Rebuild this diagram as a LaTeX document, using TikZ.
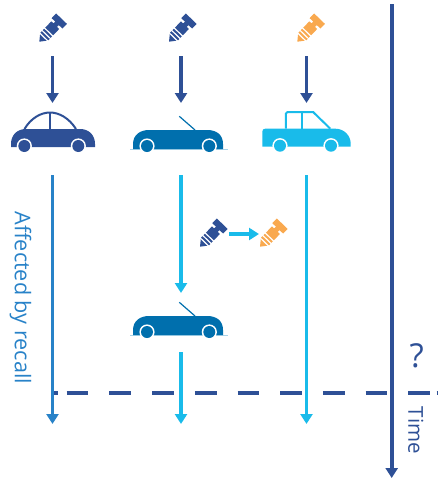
\documentclass[tikz,border=0pt]{standalone}
\usepackage{fontspec}
\setmainfont{Open Sans}
\usetikzlibrary{arrows.meta}
\definecolor{navyblue}{HTML}{2E5096}
\definecolor{midblue}{HTML}{2882C8}
\definecolor{seablue}{HTML}{006FAD}
\definecolor{skyblue}{HTML}{19BBEA}
\definecolor{paleblue}{HTML}{A9D3E8}
\definecolor{boltorange}{HTML}{F9A94F}
\tikzset{>={Triangle[width=12pt,length=10pt]}}
\tikzset{
  bolt/.pic={
    \fill[pic actions] (0,0) -- (7,-5.5) -- (23,-5.5) -- (23,-2.5) -- (25.5,-2.5) -- (25.5,-7.5)
      -- (32,-7.5) -- (32,7.5) -- (25.5,7.5) -- (25.5,2.5) -- (23,2.5) -- (23,5.5) -- (7,5.5) -- cycle;
    \foreach \u in {6.5,10,13.5}
      \draw[white,line width=1.2pt] (\u,-6.5) -- (\u,6.5);
  },
  wheel/.pic={
    \fill[white] (0,0) circle (7.6pt);
    \fill[pic actions] (0,0) circle (6pt);
  },
  sedan/.pic={
    \fill[navyblue] (0,0) -- (0,-3) .. controls (0,-12) and (6,-18) .. (15,-18) -- (69,-18)
      .. controls (78,-18) and (84,-12) .. (84,-3) -- (84,0) -- cycle;
    \draw[navyblue,line width=2pt] (13.5,-18) .. controls (20,-29) and (30,-34.5) .. (39,-34.5)
      .. controls (48,-34.5) and (58,-29) .. (65,-18);
    \draw[navyblue,line width=2pt] (38.7,-34.5) -- (38.7,-18);
    \pic[fill=navyblue] at (13.3,-1) {wheel};
    \pic[fill=navyblue] at (67.3,-1) {wheel};
  },
  roadster/.pic={
    \draw[paleblue,line width=0.8pt] (-3,0) -- (95,0);
    \fill[seablue] (0,0) -- (0,-5) .. controls (0,-14) and (7,-19) .. (16,-19) -- (74,-19)
      .. controls (84,-19) and (90,-14) .. (90,-5) -- (90,0) -- cycle;
    \draw[seablue,line width=1.2pt] (46.3,-32.7) -- (62,-19);
    \pic[fill=seablue] at (14,-3) {wheel};
    \pic[fill=seablue] at (76.3,-3) {wheel};
  },
  pickup/.pic={
    \fill[skyblue] (0,0) -- (0,-15) .. controls (0,-17) and (1,-18) .. (3,-18) -- (73,-18)
      .. controls (82,-18) and (88.4,-11) .. (88.4,-3) -- (88.4,0) -- cycle;
    \draw[skyblue,line width=2pt] (23.5,-18) -- (23.5,-33) .. controls (23.5,-34) and (24,-34.5) .. (25,-34.5)
      -- (51,-34.5) -- (68,-18);
    \draw[skyblue,line width=2pt] (40,-34.5) -- (40,-18);
    \pic[fill=skyblue] at (17.7,-1) {wheel};
    \pic[fill=skyblue] at (68.7,-1) {wheel};
  }
}
\begin{document}
\begin{tikzpicture}[
    x=1pt, y=-1pt,
    flow/.style = {->, line width=3.6pt},
    label/.style = {inner sep=0pt, anchor=base, rotate=-90}
  ]
  \useasboundingbox (0,0) rectangle (438,480);

  % ends of the arrows
  \foreach \n/\x in {A/52.5, B/181, C/306.5} {
    \coordinate (bolt\n) at (\x,56);
    \coordinate (car\n) at (\x,103);
    \coordinate (start\n) at (\x,175);
    \coordinate (end\n) at (\x,424);
  }
  \coordinate (parked) at (181,293);
  \coordinate (resume) at (181,352);
  \coordinate (swapL) at (229,234);
  \coordinate (swapR) at (259,234);
  \coordinate (timeT) at (391.7,4);
  \coordinate (timeB) at (391.7,478);
  \coordinate (cutL) at (66.7,392.7);
  \coordinate (cutR) at (438,392.7);
  \coordinate (stubL) at (53,392.7);
  \coordinate (stubR) at (58.3,392.7);
  \coordinate (tailL) at (436.7,392.7);

  % bolts
  \foreach \x/\y/\c in {39.3/41.7/navyblue, 169/41.7/navyblue, 297.3/41.7/boltorange,
      200/246.7/navyblue, 260/246.7/boltorange}
    \pic[fill=\c, rotate=46] at (\x,\y) {bolt};

  % cars
  \pic at (11,147) {sedan};
  \pic at (133,149) {roadster};
  \pic at (262.3,146.7) {pickup};
  \pic at (133,335) {roadster};

  % arrows
  \foreach \n in {A,B,C}
    \draw[flow, navyblue] (bolt\n) -- (car\n);
  \draw[navyblue, line width=4pt, dash pattern=on 21.7pt off 21pt] (cutL) -- (cutR);
  \draw[navyblue, line width=4pt] (stubL) -- (stubR);
  \draw[navyblue, line width=4pt] (tailL) -- (cutR);
  \draw[flow, midblue] (startA) -- (endA);
  \draw[flow, skyblue] (startB) -- (parked);
  \draw[flow, skyblue] (resume) -- (endB);
  \draw[flow, skyblue] (startC) -- (endC);
  \draw[flow, skyblue] (swapL) -- (swapR);
  \draw[flow, navyblue, line width=4pt] (timeT) -- (timeB);

  % texts
  \node[label, midblue, font=\fontsize{21.6}{26}\selectfont] (recall) at (15,297.8) {Affected by recall};
  \node[label, navyblue, font=\fontsize{20.5}{25}\selectfont] (time) at (408.3,430.5) {Time};
  \node[navyblue, inner sep=0pt, font=\fontsize{33}{40}\selectfont] (unknown) at (416.7,356) {?};
\end{tikzpicture}
\end{document}
